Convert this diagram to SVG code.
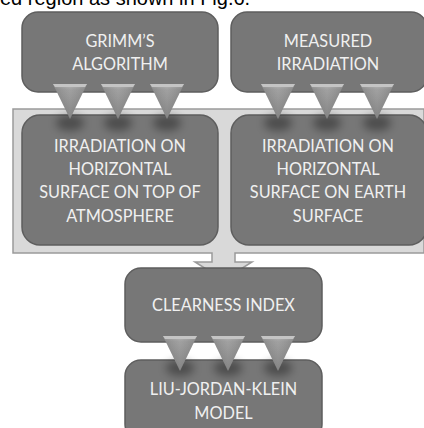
<svg xmlns="http://www.w3.org/2000/svg" width="424" height="428" viewBox="0 0 424 428">
<defs>
<linearGradient id="tri" x1="0" y1="0" x2="0" y2="1">
<stop offset="0" stop-color="#b4b4b4"/>
<stop offset="0.15" stop-color="#999"/>
<stop offset="1" stop-color="#7a7a7a"/>
</linearGradient>
<linearGradient id="triH" x1="0" y1="0" x2="1" y2="0">
<stop offset="0" stop-color="#000" stop-opacity="0.12"/>
<stop offset="0.5" stop-color="#fff" stop-opacity="0.08"/>
<stop offset="1" stop-color="#000" stop-opacity="0.12"/>
</linearGradient>
<filter id="sh" x="-50%" y="-50%" width="200%" height="200%">
<feGaussianBlur stdDeviation="4"/>
</filter>
<g id="t">
<polygon points="-17,0 17,0 0,35" fill="url(#tri)"/>
<polygon points="-17,0 17,0 0,35" fill="url(#triH)"/>
<polygon points="-17,0 17,0 15,3 -15,3" fill="#c4c4c4"/>
</g>
<g id="ts">
<ellipse cx="0" cy="8" rx="14" ry="8" fill="#000" opacity="0.35" filter="url(#sh)"/>
</g>
</defs>
<style>
.box{fill:#777;stroke:#5e5e5e;stroke-width:1.5}
.lbl{font-family:Lato,"Liberation Sans",sans-serif;font-size:16.3px;fill:#f0f0f0;text-anchor:middle}
.cap{font-family:"Liberation Sans",Arial,sans-serif;font-size:20px;fill:#000}
</style>
<rect width="424" height="428" fill="#fff"/>
<text class="cap" x="0" y="5">ed region as shown in Fig.6.</text>

<g id="connectors">
<path d="M13,109 H424 V253 H235 V262 H252 L223.5,280 L195,262 H212 V253 H13 Z" fill="#d9d9d9" stroke="#9a9a9a" stroke-width="1.5"/>
</g>

<g id="grimm">
<rect class="box" x="22" y="12" width="196" height="80" rx="16"/>
<text class="lbl" x="120" y="47">GRIMM’S</text>
<text class="lbl" x="120" y="70">ALGORITHM</text>
</g>
<g id="measured">
<rect class="box" x="231" y="12" width="196" height="80" rx="16"/>
<text class="lbl" x="328" y="47">MEASURED</text>
<text class="lbl" x="328" y="70">IRRADIATION</text>
</g>

<g id="irr-top">
<rect class="box" x="22" y="115" width="196" height="130" rx="18"/>
<text class="lbl" x="120" y="152">IRRADIATION ON</text>
<text class="lbl" x="120" y="175">HORIZONTAL</text>
<text class="lbl" x="120" y="198">SURFACE ON TOP OF</text>
<text class="lbl" x="120" y="222">ATMOSPHERE</text>
</g>
<g id="irr-earth">
<rect class="box" x="231" y="115" width="196" height="130" rx="18"/>
<text class="lbl" x="328" y="152">IRRADIATION ON</text>
<text class="lbl" x="328" y="175">HORIZONTAL</text>
<text class="lbl" x="328" y="198">SURFACE ON EARTH</text>
<text class="lbl" x="328" y="222">SURFACE</text>
</g>

<g id="clearness">
<rect class="box" x="125" y="268" width="197" height="74" rx="16"/>
<text class="lbl" x="223.5" y="311">CLEARNESS INDEX</text>
</g>
<g id="liu">
<rect class="box" x="125" y="360" width="197" height="80" rx="16"/>
<text class="lbl" x="223.5" y="395">LIU-JORDAN-KLEIN</text>
<text class="lbl" x="223.5" y="419">MODEL</text>
</g>

<g id="triangles">
<use href="#ts" x="70" y="115"/>
<use href="#ts" x="118" y="115"/>
<use href="#ts" x="167" y="115"/>
<use href="#ts" x="278" y="115"/>
<use href="#ts" x="327" y="115"/>
<use href="#ts" x="377" y="115"/>
<use href="#ts" x="180" y="360"/>
<use href="#ts" x="228" y="360"/>
<use href="#ts" x="278" y="360"/>
<use href="#t" x="70" y="84"/>
<use href="#t" x="118" y="84"/>
<use href="#t" x="167" y="84"/>
<use href="#t" x="278" y="84"/>
<use href="#t" x="327" y="84"/>
<use href="#t" x="377" y="84"/>
<use href="#t" x="180" y="336"/>
<use href="#t" x="228" y="336"/>
<use href="#t" x="278" y="336"/>
</g>
</svg>
